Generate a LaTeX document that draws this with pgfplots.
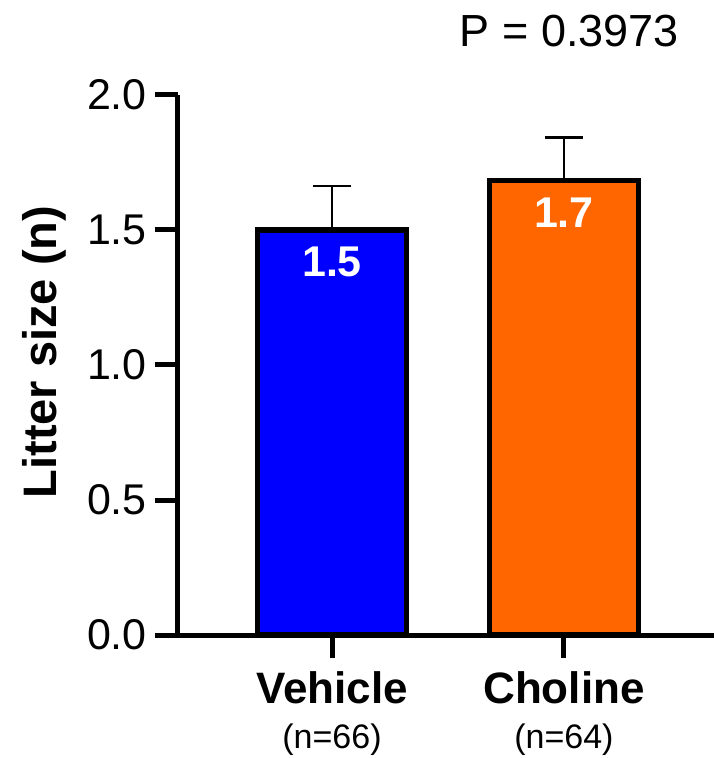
\documentclass[border=0pt]{standalone}
\usepackage{pgfplots}
\pgfplotsset{compat=1.18}
\usepackage{fontspec}
\setmainfont{Liberation Sans}
\definecolor{vblue}{RGB}{0,0,255}
\definecolor{corange}{RGB}{255,102,0}
\begin{document}
\begin{tikzpicture}
\begin{axis}[
  scale only axis, width=536bp, height=540bp,
  xmin=-0.664, xmax=1.647, ymin=0, ymax=2,
  axis x line*=bottom, axis y line*=left,
  axis line style={line width=5bp, black},
  x axis line style={shorten <=-23bp},
  ytick={0,0.5,1,1.5,2},
  xtick={0,1}, xticklabels={Vehicle,Choline},
  tick align=outside, major tick length=23bp,
  major tick style={line width=5bp, black},
  /pgf/number format/assume math mode=true,
  yticklabel style={font=\fontsize{43bp}{43bp}\selectfont, anchor=east, inner sep=0pt, xshift=-8bp,
    /pgf/number format/.cd, fixed, fixed zerofill, precision=1},
  xticklabel style={font=\fontsize{44bp}{44bp}\selectfont\bfseries, anchor=base, inner sep=0pt, yshift=-45bp},
  ylabel={Litter size (n)},
  ylabel style={font=\fontsize{47bp}{47bp}\selectfont\bfseries, at={(axis description cs:-0.2500,0.524)}, anchor=center},
  ybar, bar width=149bp, bar shift=0pt,
  point meta=explicit symbolic,
  nodes near coords,
  nodes near coords style={anchor=base, yshift=-47bp, text=white, inner sep=0pt,
    font=\fontsize{43bp}{43bp}\selectfont\bfseries},
  clip=false,
]
\addplot[fill=vblue, draw=black, line width=5.5bp,
  error bars/.cd, y dir=plus, y explicit,
  error bar style={line width=2.8bp, black},
  error mark options={rotate=90, line width=2.8bp, mark size=19bp, black}]
  coordinates {(0,1.5) +- (0,0.163) [1.5]};
\addplot[fill=corange, draw=black, line width=5.5bp,
  error bars/.cd, y dir=plus, y explicit,
  error bar style={line width=2.8bp, black},
  error mark options={rotate=90, line width=2.8bp, mark size=19bp, black}]
  coordinates {(1,1.683) +- (0,0.159) [1.7]};
\node[anchor=base, inner sep=0pt, font=\fontsize{45bp}{45bp}\selectfont] at (axis description cs:0.730,1.089) {P = 0.3973};
\node[anchor=base, inner sep=0pt, font=\fontsize{34bp}{34bp}\selectfont] at (axis cs:0,0) [yshift=-113.5bp] {(n=66)};
\node[anchor=base, inner sep=0pt, font=\fontsize{34bp}{34bp}\selectfont] at (axis cs:1,0) [yshift=-113.5bp] {(n=64)};
\coordinate (O) at (rel axis cs:0,0);
\end{axis}
\pgfresetboundingbox
\path ([shift={(-178bp,-123bp)}]O) rectangle ([shift={(536bp,635bp)}]O);
\end{tikzpicture}
\end{document}
